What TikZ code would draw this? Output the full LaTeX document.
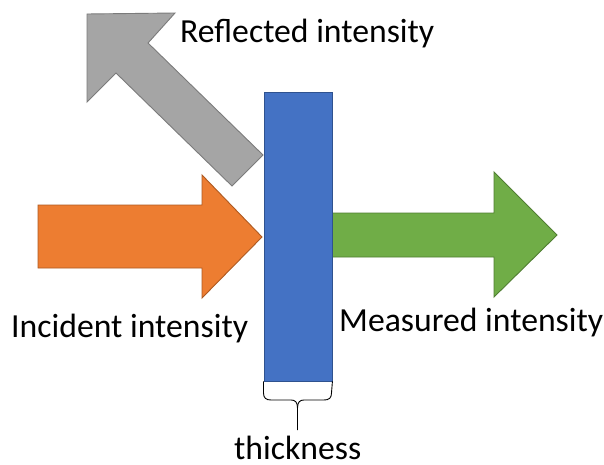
\documentclass[tikz,border=0pt]{standalone}
\usepackage{fontspec}
\setmainfont{Carlito}
\definecolor{myorange}{HTML}{ED7D31}
\definecolor{myorangeb}{HTML}{AE5A21}
\definecolor{mygreen}{HTML}{70AD47}
\definecolor{mygreenb}{HTML}{507E32}
\definecolor{myblue}{HTML}{4472C4}
\definecolor{myblueb}{HTML}{2F528F}
\definecolor{mygray}{HTML}{A5A5A5}
\definecolor{mygrayb}{HTML}{7B7B7B}
\begin{document}
\begin{tikzpicture}[x=1pt,y=-1pt,
  lbl/.style={inner sep=0pt,anchor=base west,font=\fontsize{33.7}{40}\selectfont},
  shp/.style={line width=0.9pt,line join=miter}]
\useasboundingbox[fill=white] (0,0) rectangle (604,465);
% reflected (gray) arrow
\draw[shp,fill=mygray,draw=mygrayb] (87,14) -- (175,13) -- (148,43) -- (263,155) -- (232,186) -- (116,73) -- (87,102) -- cycle;
% incident (orange) arrow
\draw[shp,fill=myorange,draw=myorangeb] (38,205) -- (202,205) -- (202,175) -- (262,237) -- (202,298) -- (202,268) -- (38,268) -- cycle;
% measured (green) arrow
\draw[shp,fill=mygreen,draw=mygreenb] (325,213) -- (494,213) -- (494,172) -- (557,235) -- (494,297) -- (494,257) -- (325,257) -- cycle;
% sample
\node[shp,draw=myblueb,fill=myblue,inner sep=0pt,minimum width=68pt,minimum height=288pt,anchor=north west] (slab) at (263.5,92.5) {};
% brace
\coordinate (bt) at (297.5,430);
\draw[line width=0.9pt] (slab.south west) -- (263.5,393) .. controls (263.5,398) and (266,400) .. (271,400) -- (291,400) .. controls (295,400) and (297.5,402) .. (297.5,408) -- (bt);
\draw[line width=0.9pt] (slab.south east) -- (331.5,393) .. controls (331.5,398) and (329,400) .. (324,400) -- (304,400) .. controls (300,400) and (297.5,402) .. (297.5,408);
% labels
\node[lbl] (refl) at (180,43) {Reflected intensity};
\node[lbl] (inc) at (11,337) {Incident intensity};
\node[lbl] (meas) at (339,331) {Measured intensity};
\node[lbl] (thk) at (234,459) {thickness};
\end{tikzpicture}
\end{document}
